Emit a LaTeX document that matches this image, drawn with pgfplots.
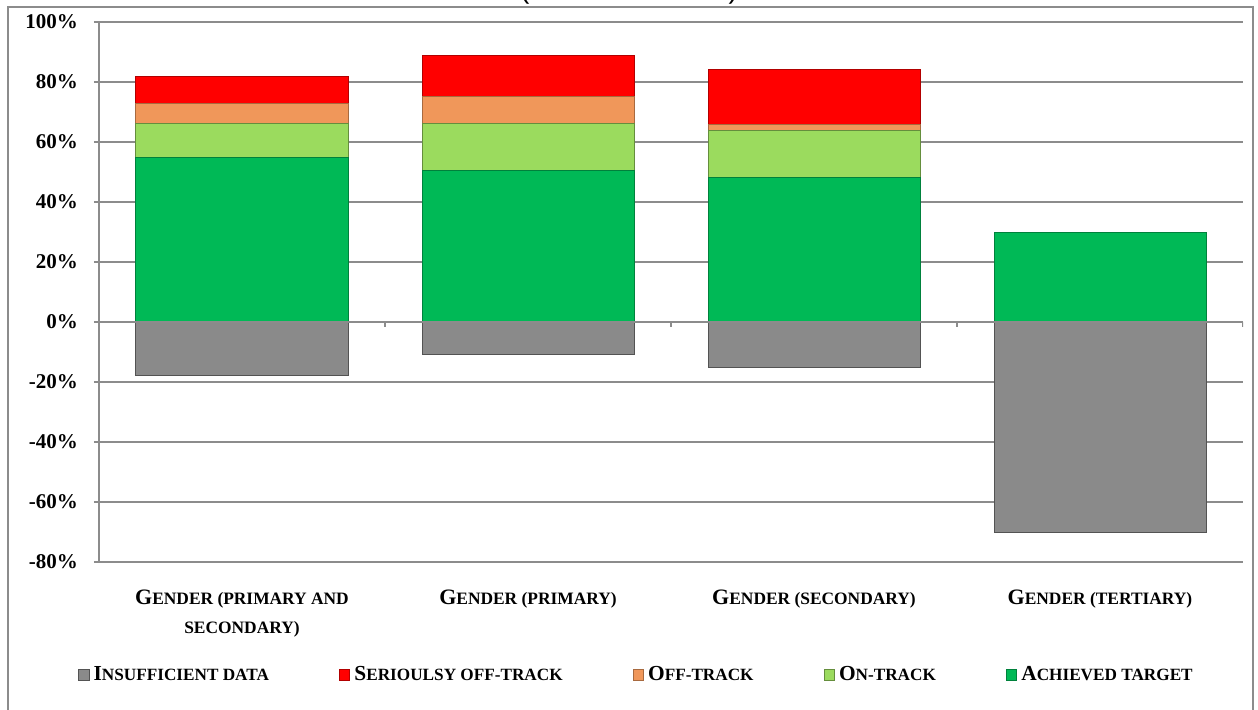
\documentclass[border=0pt]{standalone}
\usepackage{pgfplots}
\pgfplotsset{compat=1.18}
\usepackage{fontspec}
\setmainfont{Liberation Serif}
\newfontfamily\arial{Liberation Sans}

\definecolor{insgray}{HTML}{8A8A8A}
\definecolor{serred}{HTML}{FF0000}
\definecolor{offorange}{HTML}{F0975A}
\definecolor{ongreen}{HTML}{9BDB5E}
\definecolor{achgreen}{HTML}{00B956}
\definecolor{gridgray}{HTML}{8C8C8C}

% fake small caps: big initial, smaller capitals
\newcommand\catlab[2]{#1{\fontsize{8.7}{14.5}\selectfont #2}}
\newcommand\leglab[2]{#1{\fontsize{8.6}{12}\selectfont #2}}

\begin{document}
\begin{tikzpicture}
\clip (-49.5pt,-74pt) rectangle (579.5pt,281pt);
\node[anchor=base, font=\arial\fontsize{14}{16}\selectfont, inner sep=0pt] at (265pt,281.5pt) {(\% of economies)};
\draw[gridgray, line width=1pt] (-45.5pt,-90pt) -- (-45.5pt,277.5pt) -- (577pt,277.5pt) -- (577pt,-90pt);

\begin{axis}[
    at={(0,0)}, anchor=south west,
    scale only axis,
    width=572pt, height=270pt,
    xmin=-0.5, xmax=3.5,
    ymin=-80, ymax=100,
    ybar stacked,
    bar width=106pt,
    axis x line*=bottom,
    axis y line*=left,
    x axis line style={draw=none},
    y axis line style={gridgray, line width=1pt},
    ytick={-80,-60,-40,-20,0,20,40,60,80,100},
    yticklabels={-80\%,-60\%,-40\%,-20\%,0\%,20\%,40\%,60\%,80\%,100\%},
    yticklabel style={font=\bfseries\fontsize{10.5}{12}\selectfont, xshift=-4.5pt},
    ytick style={gridgray, line width=1pt},
    tick align=outside,
    major tick length=2.5pt,
    ymajorgrids,
    grid style={gridgray, line width=1pt},
    xtick={0,1,2,3},
    xtick style={draw=none},
    xticklabels={
        {\catlab{G}{ENDER (PRIMARY AND}\\\catlab{}{SECONDARY)}},
        {\catlab{G}{ENDER (PRIMARY)}},
        {\catlab{G}{ENDER (SECONDARY)}},
        {\catlab{G}{ENDER (TERTIARY)}}},
    xticklabel style={font=\bfseries\fontsize{11}{14.5}\selectfont, align=center, anchor=north, yshift=-8pt},
    legend image code/.code={\draw[#1] (0pt,-2.6pt) rectangle (5.2pt,2.6pt);},
    legend style={at={(0.4707,-0.2093)}, anchor=center, draw=none, fill=none,
        font=\bfseries\fontsize{10.7}{12}\selectfont,
        /tikz/every even column/.append style={column sep=33pt},
        legend cell align=left},
    legend columns=5,
    reverse legend,
]
\addplot[fill=achgreen, draw=achgreen!70!black, line width=0.5pt] coordinates {(0,54.9) (1,50.4) (2,48.1) (3,29.7)};
\addplot[fill=ongreen, draw=ongreen!65!black, line width=0.5pt] coordinates {(0,11.1) (1,15.8) (2,15.7)};
\addplot[fill=offorange, draw=offorange!70!black, line width=0.5pt] coordinates {(0,6.8) (1,8.9) (2,1.9)};
\addplot[fill=serred, draw=serred!70!black, line width=0.5pt] coordinates {(0,9.1) (1,13.8) (2,18.5)};
\addlegendentry{\leglab{A}{CHIEVED TARGET}}
\addlegendentry{\leglab{O}{N-TRACK}}
\addlegendentry{\leglab{O}{FF-TRACK}}
\addlegendentry{\leglab{S}{ERIOULSY OFF-TRACK}}
\addlegendimage{fill=insgray, draw=insgray!60!black, line width=0.5pt}
\addlegendentry{\leglab{I}{NSUFFICIENT DATA}}
\end{axis}

\begin{axis}[
    at={(0,0)}, anchor=south west,
    scale only axis,
    width=572pt, height=270pt,
    xmin=-0.5, xmax=3.5,
    ymin=-80, ymax=100,
    axis lines=none,
    ybar, bar width=106pt, bar shift=0pt,
]
\addplot[fill=insgray, draw=insgray!60!black, line width=0.5pt] coordinates {(0,-17.7) (1,-10.7) (2,-15.3) (3,-70.3)};
\draw[gridgray, line width=1pt] (axis cs:-0.5,0) -- (axis cs:3.5,0);
\draw[gridgray, line width=1pt] (axis cs:0.5,0) -- ++(0pt,-2.5pt);
\draw[gridgray, line width=1pt] (axis cs:1.5,0) -- ++(0pt,-2.5pt);
\draw[gridgray, line width=1pt] (axis cs:2.5,0) -- ++(0pt,-2.5pt);
\draw[gridgray, line width=1pt] (axis cs:3.5,0) -- ++(0pt,-2.5pt);
\end{axis}
\end{tikzpicture}
\end{document}
